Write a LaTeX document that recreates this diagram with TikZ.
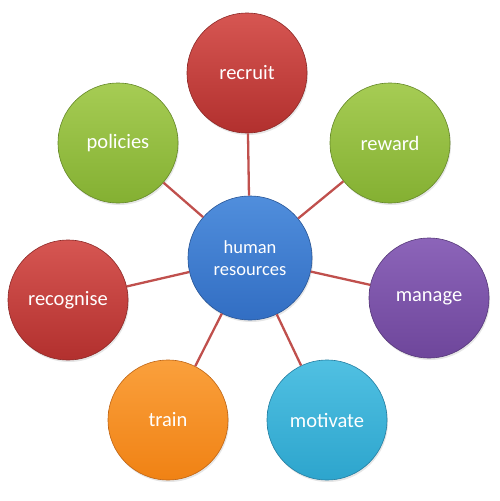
\documentclass[tikz,border=0pt]{standalone}
\usepackage{fontspec}
\setmainfont{Carlito}
\usetikzlibrary{shadows}
\definecolor{linkred}{RGB}{192,80,77}
\definecolor{redT}{RGB}{214,86,82}\definecolor{redB}{RGB}{178,48,46}\definecolor{redD}{RGB}{140,40,38}
\definecolor{grnT}{RGB}{166,204,84}\definecolor{grnB}{RGB}{132,176,50}\definecolor{grnD}{RGB}{100,135,40}
\definecolor{bluT}{RGB}{80,142,220}\definecolor{bluB}{RGB}{50,110,195}\definecolor{bluD}{RGB}{40,85,150}
\definecolor{purT}{RGB}{140,100,185}\definecolor{purB}{RGB}{110,70,155}\definecolor{purD}{RGB}{85,55,120}
\definecolor{aquT}{RGB}{80,192,226}\definecolor{aquB}{RGB}{45,165,205}\definecolor{aquD}{RGB}{35,125,160}
\definecolor{oraT}{RGB}{250,160,60}\definecolor{oraB}{RGB}{240,130,20}\definecolor{oraD}{RGB}{190,100,20}
\tikzset{
  ball/.style={circle, minimum size=120pt, inner sep=0pt, align=center, text=white,
    font=\fontsize{20.5}{24}\selectfont, line width=0.6pt,
    drop shadow={opacity=0.2, shadow xshift=1pt, shadow yshift=-2pt}},
  redball/.style={ball, top color=redT, bottom color=redB, draw=redD},
  grnball/.style={ball, top color=grnT, bottom color=grnB, draw=grnD},
  bluball/.style={ball, top color=bluT, bottom color=bluB, draw=bluD, minimum size=124pt,
    font=\fontsize{18.5}{22}\selectfont},
  purball/.style={ball, top color=purT, bottom color=purB, draw=purD},
  aquball/.style={ball, top color=aquT, bottom color=aquB, draw=aquD},
  oraball/.style={ball, top color=oraT, bottom color=oraB, draw=oraD},
  link/.style={draw=linkred, line width=2.3pt}
}
\begin{document}
\begin{tikzpicture}[x=1pt,y=-1pt]
\useasboundingbox (0,0) rectangle (500,501);
\node[bluball] (hr) at (250,258) {human\\resources};
\node[redball] (recruit) at (247,73) {recruit};
\node[grnball] (reward) at (390,143) {reward};
\node[purball] (manage) at (429,298) {manage};
\node[aquball] (motivate) at (327,420) {motivate};
\node[oraball] (train) at (168,420) {train};
\node[redball] (recognise) at (68,300) {recognise};
\node[grnball] (policies) at (118,143) {policies};
\foreach \n in {recruit,reward,manage,motivate,train,recognise,policies}
  \draw[link] (hr) -- (\n);
\end{tikzpicture}
\end{document}
